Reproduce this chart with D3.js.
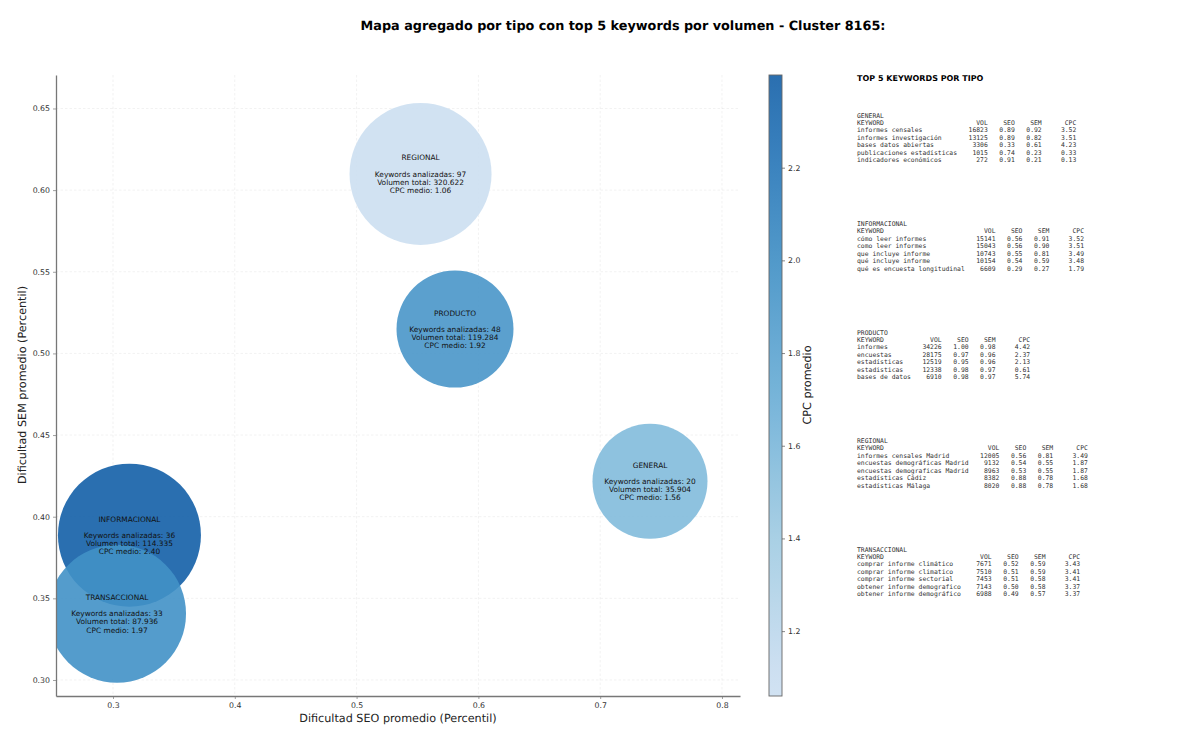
<!DOCTYPE html>
<html><head><meta charset="utf-8">
<script src="https://cdn.jsdelivr.net/npm/d3@7"></script>
<style>
html,body{margin:0;padding:0;background:#fff}
text{font-family:"DejaVu Sans",sans-serif;fill:#111;text-rendering:geometricPrecision}
.mono{font-family:"DejaVu Sans Mono",monospace;white-space:pre;font-size:6.4px;fill:#333}
</style></head><body><svg id="c" width="1200" height="742"></svg>
<script>
const chartTitle = "Mapa agregado por tipo con top 5 keywords por volumen - Cluster 8165:";
const tipos = ["REGIONAL","PRODUCTO","GENERAL","INFORMACIONAL","TRANSACCIONAL"];
const seoMedio = [0.5525,0.5808,0.7409,0.3135,0.3033];
const semMedio = [0.6099,0.5149,0.4217,0.3887,0.3406];
const cpcMedio = [1.06,1.92,1.56,2.40,1.97];
const keywordsAnalizadas = [97,48,20,36,33];
const volumenTotal = ["320.622","119.284","35.904","114.335","87.936"];
const bubbleArea = [5041,3422,3306,5112,4761];
const xTicks = [0.3,0.4,0.5,0.6,0.7,0.8];
const yTicks = [0.30,0.35,0.40,0.45,0.50,0.55,0.60,0.65];
const cbTicks = [1.2,1.4,1.6,1.8,2.0,2.2];
const tableGroups = ["GENERAL","INFORMACIONAL","PRODUCTO","REGIONAL","TRANSACCIONAL"];
const tableKeywords = [
 ["informes censales","informes investigación","bases datos abiertas","publicaciones estadísticas","indicadores económicos"],
 ["cómo leer informes","como leer informes","que incluye informe","qué incluye informe","qué es encuesta longitudinal"],
 ["informes","encuestas","estadísticas","estadisticas","bases de datos"],
 ["informes censales Madrid","encuestas demográficas Madrid","encuestas demograficas Madrid","estadísticas Cádiz","estadísticas Málaga"],
 ["comprar informe climático","comprar informe climatico","comprar informe sectorial","obtener informe demografico","obtener informe demográfico"]];
const tableVol = [[16823,13125,3306,1015,272],[15141,15043,10743,10154,6609],[34226,28175,12519,12338,6910],[12005,9132,8963,8382,8020],[7671,7510,7453,7143,6988]];
const tableSeo = [[.89,.89,.33,.74,.91],[.56,.56,.55,.54,.29],[1.00,.97,.95,.98,.98],[.56,.54,.53,.88,.88],[.52,.51,.51,.50,.49]];
const tableSem = [[.92,.82,.61,.23,.21],[.91,.90,.81,.59,.27],[.98,.96,.96,.97,.97],[.81,.55,.55,.78,.78],[.59,.59,.58,.58,.57]];
const tableCpc = [[3.52,3.51,4.23,.33,.13],[3.52,3.51,3.49,3.48,1.79],[4.42,2.37,2.13,.61,5.74],[3.49,1.87,1.87,1.68,1.68],[3.43,3.41,3.41,3.37,3.37]];

const svg = d3.select("#c");
const m = {l:56,r:740,t:75,b:696};
const x = d3.scaleLinear().domain([0.2532,0.8148]).range([m.l,m.r]);
const y = d3.scaleLinear().domain([0.2902,0.6705]).range([m.b,m.t]);
const rS = d3.scaleSqrt().domain([0,5112]).range([0,71.5]);
const blues = ["#f7fbff","#deebf7","#c6dbef","#9ecae1","#6baed6","#4292c6","#2171b5","#08519c","#08306b"];
const bluesScale = d3.scaleLinear().domain(blues.map((d,i)=>i/8)).range(blues);
const cpcT = d3.scaleLinear().domain([1.06,2.40]).range([0.22,0.82]);
const color = v => bluesScale(cpcT(v));
const alpha = 0.9;

svg.append("text").attr("x",623).attr("y",30).attr("text-anchor","middle")
  .attr("font-size",12.8).attr("font-weight","bold").style("fill","#000").text(chartTitle);

svg.append("clipPath").attr("id","plot").append("rect")
  .attr("x",m.l).attr("y",m.t).attr("width",m.r-m.l).attr("height",m.b-m.t);

// grid
const grid = svg.append("g").attr("stroke","#000").attr("stroke-opacity",0.07).attr("stroke-width",0.8).attr("stroke-dasharray","2.5,2");
grid.selectAll(".gx").data(xTicks).join("line").attr("x1",d=>x(d)).attr("x2",d=>x(d)).attr("y1",m.t).attr("y2",m.b);
grid.selectAll(".gy").data(yTicks).join("line").attr("y1",d=>y(d)).attr("y2",d=>y(d)).attr("x1",m.l).attr("x2",m.r);

// bubbles
const order = [0,1,2,3,4];
svg.append("g").attr("clip-path","url(#plot)").selectAll("circle").data(order).join("circle")
  .attr("cx",i=>x(seoMedio[i])).attr("cy",i=>y(semMedio[i])).attr("r",i=>rS(bubbleArea[i]))
  .attr("fill",i=>color(cpcMedio[i])).attr("fill-opacity",alpha);

// axes
const gx = svg.append("g").attr("transform",`translate(0,${m.b})`).call(d3.axisBottom(x).tickValues(xTicks).tickFormat(d3.format(".1f")).tickSizeInner(3).tickSizeOuter(0).tickPadding(3));
const gy = svg.append("g").attr("transform",`translate(${m.l},0)`).call(d3.axisLeft(y).tickValues(yTicks).tickFormat(d3.format(".2f")).tickSizeInner(3).tickSizeOuter(0).tickPadding(3));
[gx,gy].forEach(g=>{
  g.selectAll("text").attr("font-size",7.8).style("fill","#333").attr("font-family",null);
  g.selectAll(".tick line").attr("stroke","#777").attr("stroke-width",0.7);
  g.select(".domain").attr("stroke","#777").attr("stroke-width",1.3);
});
svg.append("text").attr("x",398).attr("y",721.5).attr("text-anchor","middle").attr("font-size",11.2).style("fill","#222").text("Dificultad SEO promedio (Percentil)");
svg.append("text").attr("transform","translate(26,385) rotate(-90)").attr("text-anchor","middle").attr("font-size",11.2).style("fill","#222").text("Dificultad SEM promedio (Percentil)");

// bubble labels
const lh = 8.1;
const lab = svg.append("g").selectAll("g").data(order).join("g")
  .attr("transform",i=>`translate(${x(seoMedio[i])},${y(semMedio[i])})`)
  .attr("text-anchor","middle").attr("font-size",7.4);
lab.each(function(i){
  const g = d3.select(this);
  const lines = [[tipos[i],-2],[`Keywords analizadas: ${keywordsAnalizadas[i]}`,0],[`Volumen total: ${volumenTotal[i]}`,1],[`CPC medio: ${d3.format(".2f")(cpcMedio[i])}`,2]];
  lines.forEach(([t,k])=>g.append("text").attr("y",k*lh+2.7).text(t));
});

// colour bar
const cb = d3.scaleLinear().domain([1.06,2.40]).range([696,75]);
const defs = svg.append("defs");
const lg = defs.append("linearGradient").attr("id","cbg").attr("x1",0).attr("x2",0).attr("y1",1).attr("y2",0);
d3.range(0,1.0001,0.05).forEach(t=>lg.append("stop").attr("offset",t).attr("stop-color",color(1.06+t*1.34)).attr("stop-opacity",alpha));
svg.append("rect").attr("x",769).attr("y",75).attr("width",13).attr("height",621).attr("fill","url(#cbg)").attr("stroke","#666").attr("stroke-width",0.9);
const gc = svg.append("g").attr("transform","translate(782,0)").call(d3.axisRight(cb).tickValues(cbTicks).tickFormat(d3.format(".1f")).tickSizeInner(3).tickSizeOuter(0).tickPadding(3));
gc.select(".domain").remove();
gc.selectAll("text").attr("font-size",7.8).style("fill","#333").attr("font-family",null);
gc.selectAll(".tick line").attr("stroke","#555").attr("stroke-width",0.7);
svg.append("text").attr("transform","translate(811,385) rotate(-90)").attr("text-anchor","middle").attr("font-size",11.2).style("fill","#222").text("CPC promedio");

// keyword panel
const tx = 857;
svg.append("text").attr("x",tx).attr("y",81).attr("font-size",8).attr("font-weight","bold").style("fill","#000").text("TOP 5 KEYWORDS POR TIPO");
const blockY = d3.scaleLinear().domain([0,4]).range([117.5,551.5]);
const rowH = 7.42;
const pad = (s,n)=>String(s).padStart(n," ");
const f2 = d3.format(".2f");
tableGroups.forEach((gName,b)=>{
  const w = d3.max(tableKeywords[b],k=>k.length);
  const rows = [gName,"KEYWORD".padEnd(w," ")+pad("VOL",8)+pad("SEO",7)+pad("SEM",7)+pad("CPC",9)];
  tableKeywords[b].forEach((k,i)=>rows.push(k.padEnd(w," ")+pad(tableVol[b][i],8)+pad(f2(tableSeo[b][i]),7)+pad(f2(tableSem[b][i]),7)+pad(f2(tableCpc[b][i]),9)));
  svg.append("g").selectAll("text").data(rows).join("text").attr("class","mono").attr("xml:space","preserve")
    .attr("x",tx).attr("y",(d,i)=>blockY(b)+i*rowH).text(d=>d);
});
</script></body></html>
